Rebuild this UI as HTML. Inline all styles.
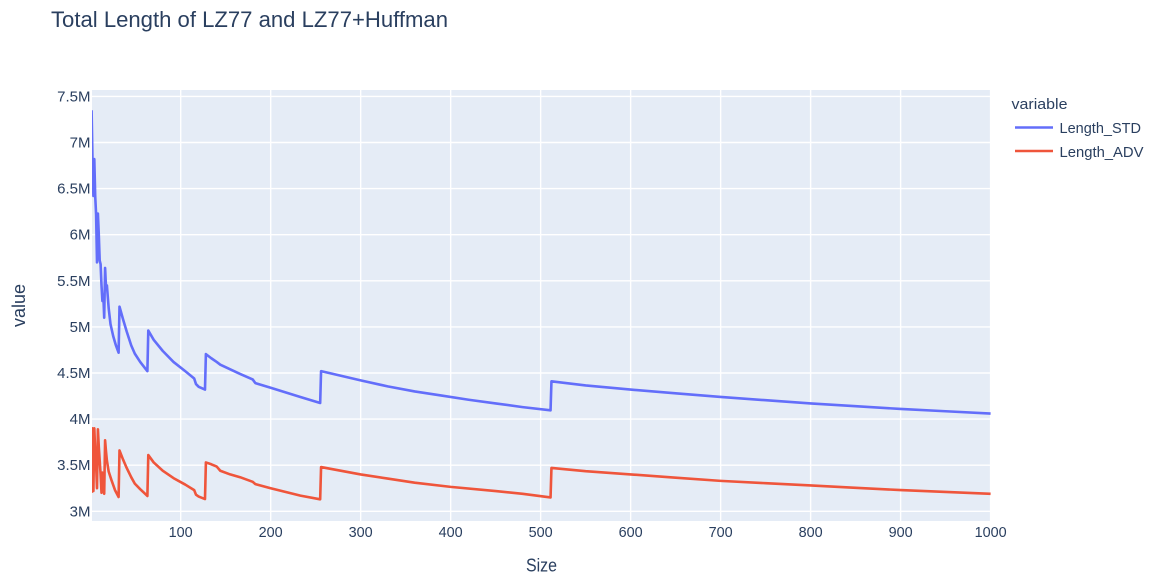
<!DOCTYPE html>
<html>
<head>
<meta charset="utf-8">
<title>Total Length of LZ77 and LZ77+Huffman</title>
<style>
html,body{margin:0;padding:0;background:#fff;width:1165px;height:583px;overflow:hidden}
svg{display:block}
text{font-family:"Liberation Sans",sans-serif;fill:#2a3f5f}
</style>
</head>
<body>
<svg id="chart" width="1165" height="583" viewBox="0 0 1165 583" xmlns="http://www.w3.org/2000/svg">
  <defs><clipPath id="plot-clip"><rect x="92" y="90" width="899" height="431"/></clipPath></defs>
  <rect x="0" y="0" width="1165" height="583" fill="#ffffff"/>
  <rect x="92" y="90" width="899" height="431" fill="#e5ecf6"/>
  <g id="grid"></g>
  <g id="series" clip-path="url(#plot-clip)"></g>
  <g id="xticks" font-size="14.4" text-anchor="middle"></g>
  <g id="yticks" font-size="15" text-anchor="end"></g>
  <text x="51" y="27" font-size="22.5" textLength="397" lengthAdjust="spacingAndGlyphs">Total Length of LZ77 and LZ77+Huffman</text>
  <text x="526" y="571.5" font-size="18" textLength="31" lengthAdjust="spacingAndGlyphs">Size</text>
  <text transform="translate(25,327) rotate(-90)" x="0" y="0" font-size="18" textLength="43" lengthAdjust="spacingAndGlyphs">value</text>
  <g>
    <text x="1011.5" y="109" font-size="14.5" textLength="56" lengthAdjust="spacingAndGlyphs">variable</text>
    <g>
      <line x1="1015" y1="127.5" x2="1053" y2="127.5" stroke="#636efa" stroke-width="2.4"/>
      <text x="1059.5" y="133" font-size="14.5" textLength="81.5" lengthAdjust="spacingAndGlyphs">Length_STD</text>
    </g>
    <g>
      <line x1="1015" y1="151" x2="1053" y2="151" stroke="#ef553b" stroke-width="2.4"/>
      <text x="1059.5" y="157" font-size="14.5" textLength="84" lengthAdjust="spacingAndGlyphs">Length_ADV</text>
    </g>
  </g>
</svg>
<script>
var xTickValues = [100, 200, 300, 400, 500, 600, 700, 800, 900, 1000];
var xTickLabels = ["100", "200", "300", "400", "500", "600", "700", "800", "900", "1000"];
var yTickValues = [3, 3.5, 4, 4.5, 5, 5.5, 6, 6.5, 7, 7.5];
var yTickLabels = ["3M", "3.5M", "4M", "4.5M", "5M", "5.5M", "6M", "6.5M", "7M", "7.5M"];

var stdSizes = [1, 2, 3, 4, 5, 6, 7, 8, 9, 10, 11, 12, 13, 14, 15, 16, 17, 18, 20, 22, 25, 28, 31, 32, 36, 40, 45, 49, 55, 63, 64, 70, 80, 92, 105, 115, 117, 120, 127, 128, 134, 140, 144, 155, 166, 180, 183, 200, 233, 255, 256, 300, 330, 360, 390, 420, 450, 480, 511, 512, 550, 600, 650, 700, 750, 800, 850, 900, 950, 1000];
var stdValues = [7.35, 6.8, 6.42, 6.82, 6.42, 6.22, 5.7, 6.23, 6.0, 5.72, 5.68, 5.45, 5.28, 5.35, 5.1, 5.64, 5.43, 5.45, 5.2, 5.03, 4.9, 4.8, 4.72, 5.22, 5.08, 4.95, 4.8, 4.71, 4.62, 4.52, 4.96, 4.86, 4.74, 4.62, 4.52, 4.44, 4.38, 4.35, 4.32, 4.705, 4.66, 4.62, 4.59, 4.54, 4.49, 4.43, 4.39, 4.34, 4.24, 4.175, 4.52, 4.42, 4.355, 4.3, 4.255, 4.21, 4.17, 4.13, 4.095, 4.41, 4.365, 4.32, 4.28, 4.24, 4.205, 4.17, 4.14, 4.11, 4.085, 4.06];

var advSizes = [1, 2, 3, 4, 5, 6, 7, 8, 9, 10, 11, 12, 13, 14, 15, 16, 17, 18, 20, 23, 27, 31, 32, 36, 40, 45, 49, 55, 63, 64, 70, 80, 92, 105, 115, 117, 120, 127, 128, 134, 140, 144, 155, 166, 180, 183, 200, 233, 255, 256, 300, 330, 360, 400, 450, 480, 511, 512, 550, 600, 650, 700, 750, 800, 850, 900, 950, 1000];
var advValues = [3.2, 3.9, 3.22, 3.9, 3.65, 3.5, 3.25, 3.89, 3.7, 3.55, 3.4, 3.2, 3.42, 3.3, 3.19, 3.77, 3.65, 3.55, 3.43, 3.34, 3.23, 3.155, 3.66, 3.56, 3.47, 3.37, 3.3, 3.24, 3.166, 3.61, 3.53, 3.44, 3.36, 3.29, 3.23, 3.18, 3.16, 3.133, 3.53, 3.51, 3.485, 3.44, 3.4, 3.37, 3.32, 3.295, 3.25, 3.17, 3.13, 3.48, 3.4, 3.355, 3.31, 3.265, 3.22, 3.19, 3.15, 3.47, 3.435, 3.4, 3.365, 3.33, 3.305, 3.28, 3.255, 3.23, 3.21, 3.19];

var svgNS = 'http://www.w3.org/2000/svg';
function xScale(v) { return 91.6 + (v - 1) * 899 / 999; }
function yScale(v) { return 511.3 - (v - 3) * 92.2; }

var grid = document.getElementById('grid');
var xticks = document.getElementById('xticks');
var yticks = document.getElementById('yticks');
var seriesGroup = document.getElementById('series');

xTickValues.forEach(function (v, i) {
  var line = document.createElementNS(svgNS, 'line');
  
  
  line.setAttribute('x1', xScale(v));
  line.setAttribute('x2', xScale(v));
  line.setAttribute('y1', 90);
  line.setAttribute('y2', 521);
  line.setAttribute('stroke', '#ffffff');
  line.setAttribute('stroke-width', 1.4);
  grid.appendChild(line);
  var label = document.createElementNS(svgNS, 'text');
  
  
  label.setAttribute('x', xScale(v));
  label.setAttribute('y', 537);
  label.textContent = xTickLabels[i];
  xticks.appendChild(label);
});

yTickValues.forEach(function (v, i) {
  var line = document.createElementNS(svgNS, 'line');
  
  
  line.setAttribute('x1', 92);
  line.setAttribute('x2', 991);
  line.setAttribute('y1', yScale(v));
  line.setAttribute('y2', yScale(v));
  line.setAttribute('stroke', '#ffffff');
  line.setAttribute('stroke-width', 1.4);
  grid.appendChild(line);
  var label = document.createElementNS(svgNS, 'text');
  
  
  label.setAttribute('x', 90.5);
  label.setAttribute('y', yScale(v) + 5);
  label.textContent = yTickLabels[i];
  yticks.appendChild(label);
});

function drawSeries(sizes, values, color) {
  var path = document.createElementNS(svgNS, 'path');
  var d = sizes.map(function (s, i) {
    return (i ? 'L' : 'M') + xScale(s).toFixed(2) + ' ' + yScale(values[i]).toFixed(2);
  }).join('');
  path.setAttribute('d', d);
  path.setAttribute('fill', 'none');
  path.setAttribute('stroke', color);
  path.setAttribute('stroke-width', 2.6);
  path.setAttribute('stroke-linejoin', 'round');
  return path;
}

var stdLine = drawSeries(stdSizes, stdValues, '#636efa');


seriesGroup.appendChild(stdLine);

var advLine = drawSeries(advSizes, advValues, '#ef553b');


seriesGroup.appendChild(advLine);
</script>
</body>
</html>
